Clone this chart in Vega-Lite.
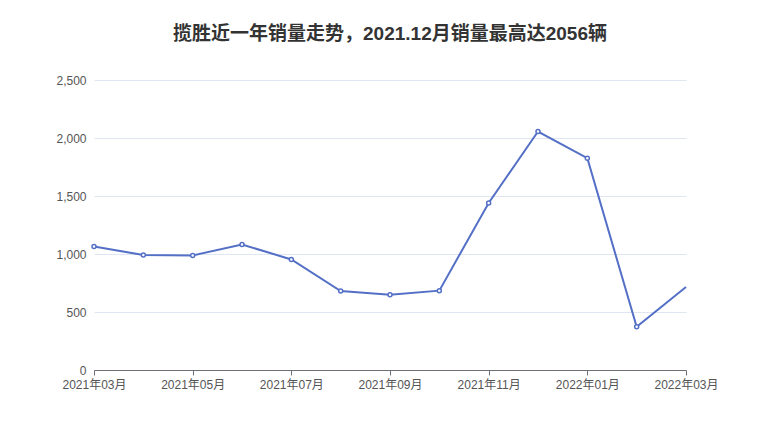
{
  "$schema": "https://vega.github.io/schema/vega-lite/v6.json",
  "autosize": "none",
  "width": 592,
  "height": 290,
  "padding": {"left": 94, "top": 80, "right": 94, "bottom": 70},
  "background": "white",
  "config": {
    "font": "Liberation Sans, Noto Sans CJK SC",
    "view": {"stroke": null}
  },
  "title": {
    "text": "揽胜近一年销量走势，2021.12月销量最高达2056辆",
    "fontSize": 19,
    "fontWeight": "bold",
    "color": "#333333",
    "anchor": "middle",
    "offset": 30,
    "font": "Liberation Sans, Noto Sans CJK SC"
  },
  "data": {
    "values": [
      {"month": "2021年03月", "sales": 1065},
      {"month": "2021年04月", "sales": 991},
      {"month": "2021年05月", "sales": 988},
      {"month": "2021年06月", "sales": 1082},
      {"month": "2021年07月", "sales": 953},
      {"month": "2021年08月", "sales": 680},
      {"month": "2021年09月", "sales": 648},
      {"month": "2021年10月", "sales": 684},
      {"month": "2021年11月", "sales": 1440},
      {"month": "2021年12月", "sales": 2056},
      {"month": "2022年01月", "sales": 1826},
      {"month": "2022年02月", "sales": 372},
      {"month": "2022年03月", "sales": 716}
    ]
  },
  "encoding": {
    "x": {
      "field": "month",
      "type": "ordinal",
      "sort": null,
      "scale": {"type": "point", "padding": 0},
      "axis": {
        "title": null,
        "values": ["2021年03月", "2021年05月", "2021年07月", "2021年09月", "2021年11月", "2022年01月", "2022年03月"],
        "labelAngle": 0,
        "grid": false,
        "domainColor": "#6e7079",
        "tickColor": "#6e7079",
        "tickSize": 5,
        "labelColor": "#555555",
        "labelFontSize": 12,
        "labelPadding": 4,
        "labelFlush": false
      }
    },
    "y": {
      "field": "sales",
      "type": "quantitative",
      "scale": {"domain": [0, 2500]},
      "axis": {
        "title": null,
        "values": [0, 500, 1000, 1500, 2000, 2500],
        "format": ",d",
        "domain": false,
        "ticks": false,
        "gridColor": "#e0e6f1",
        "labelColor": "#555555",
        "labelFontSize": 12,
        "labelPadding": 8
      }
    }
  },
  "layer": [
    {
      "mark": {"type": "line", "color": "#5470c6", "strokeWidth": 2}
    },
    {
      "transform": [{"filter": "datum.month != '2022年03月'"}],
      "mark": {"type": "point", "filled": true, "fill": "white", "stroke": "#5470c6", "strokeWidth": 1.5, "size": 16, "opacity": 1}
    }
  ]
}
